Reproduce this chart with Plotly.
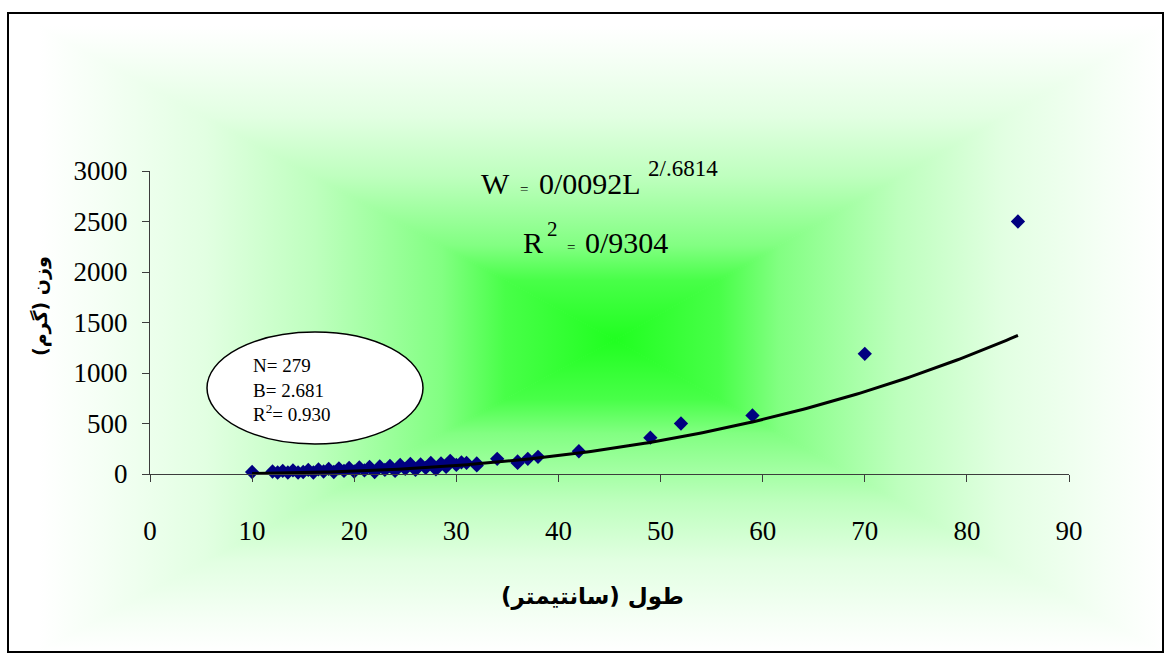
import base64
import numpy as np
import plotly.graph_objects as go

# Length (cm) and weight (g) of the sampled fish
length_cm = [10, 12, 12.5, 13, 13.5, 14, 14.5, 15, 15.5, 16, 16.5, 17, 17.5, 18, 18.5,
             19, 19.5, 20, 20.5, 21, 21.5, 22, 22.5, 23, 23.5, 24, 24.5, 25, 25.5,
             26, 26.5, 27, 27.5, 28, 28.5, 29, 29.4, 30, 30.5, 31, 32, 32, 34, 36,
             36, 37, 38, 42, 49, 52, 59, 70, 85]
weight_g = [20, 25, 15, 30, 15, 35, 15, 20, 40, 15, 45, 25, 50, 20, 55,
            30, 60, 25, 65, 35, 70, 20, 75, 40, 80, 30, 90, 50, 100,
            40, 95, 60, 110, 45, 105, 70, 130, 90, 115, 110, 105, 85, 150, 125,
            110, 150, 170, 225, 360, 500, 580, 1190, 2500]

# Power fit W = a * L^b
fit_a = 0.0092
fit_b = 2.6814
fit_r2 = 0.9304
n_fish = 279

x_ticks = [0, 10, 20, 30, 40, 50, 60, 70, 80, 90]
y_ticks = [0, 500, 1000, 1500, 2000, 2500, 3000]

W_PX, H_PX = 1171, 663


def px(x):
    return x / W_PX


def py(y):
    return 1 - y / H_PX


# Rectangular "from centre" green gradient for the chart background
gx0, gy0, gx1, gy1 = 38, 26, 1162, 652
cx, cy = 615, 340
stops = [(0.0, (32, 255, 32)), (0.19, (72, 255, 72)), (0.3, (130, 255, 130)),
         (0.52, (190, 255, 190)), (0.71, (226, 255, 226)), (0.9, (246, 255, 246)),
         (1.0, (255, 255, 255))]
stop_xml = "".join(
    f'<stop offset="{o}" stop-color="rgb({c[0]},{c[1]},{c[2]})"/>' for o, c in stops)
tris = [
    ((gx0, gy0), (gx1, gy0), (cx, gy0)),
    ((gx0, gy1), (gx1, gy1), (cx, gy1)),
    ((gx0, gy0), (gx0, gy1), (gx0, cy)),
    ((gx1, gy0), (gx1, gy1), (gx1, cy)),
]
defs, polys = "", ""
for i, (a, b, end) in enumerate(tris):
    defs += (f'<linearGradient id="g{i}" gradientUnits="userSpaceOnUse" '
             f'x1="{cx}" y1="{cy}" x2="{end[0]}" y2="{end[1]}">{stop_xml}</linearGradient>')
    polys += (f'<polygon points="{a[0]},{a[1]} {b[0]},{b[1]} {cx},{cy}" '
              f'fill="url(#g{i})" stroke="url(#g{i})" stroke-width="1"/>')
svg = (f'<svg xmlns="http://www.w3.org/2000/svg" width="{W_PX}" height="{H_PX}" '
       f'viewBox="0 0 {W_PX} {H_PX}"><defs>{defs}</defs>{polys}</svg>')
bg_src = "data:image/svg+xml;base64," + base64.b64encode(svg.encode()).decode()

fit_x = np.linspace(min(length_cm), max(length_cm), 200)
fit_y = fit_a * fit_x ** fit_b

fig = go.Figure()
fig.add_trace(go.Scatter(
    x=length_cm, y=weight_g, mode="markers",
    marker=dict(symbol="diamond", size=11, color="#000080", line=dict(width=0)),
    cliponaxis=False, showlegend=False, hoverinfo="x+y"))
fig.add_trace(go.Scatter(
    x=fit_x, y=fit_y, mode="lines", line=dict(color="black", width=3),
    cliponaxis=False, showlegend=False, hoverinfo="skip"))

tick_font = dict(family="Liberation Serif", size=27, color="black")
axis_col = "#3c3c3c"

fig.update_layout(
    width=W_PX, height=H_PX, autosize=False,
    margin=dict(l=0, r=0, t=0, b=0, pad=0, autoexpand=False),
    paper_bgcolor="white", plot_bgcolor="rgba(0,0,0,0)",
    xaxis=dict(domain=[px(150), px(1069)], range=[0, 90], tickvals=x_ticks,
               ticktext=[str(v) for v in x_ticks], automargin=False,
               showgrid=False, zeroline=False, showline=True, linecolor=axis_col,
               linewidth=1, ticks="outside", ticklen=7, tickcolor=axis_col,
               tickfont=tick_font, ticklabelstandoff=26),
    yaxis=dict(domain=[py(474), py(171)], range=[0, 3000], tickvals=y_ticks,
               ticktext=[str(v) for v in y_ticks], automargin=False,
               showgrid=False, zeroline=False, showline=True, linecolor=axis_col,
               linewidth=1, ticks="outside", ticklen=7, tickcolor=axis_col,
               tickfont=tick_font, ticklabelstandoff=9),
    images=[dict(source=bg_src, xref="paper", yref="paper", x=0, y=1,
                 sizex=1, sizey=1, xanchor="left", yanchor="top",
                 sizing="stretch", layer="below")],
)

# Chart frame and the summary ellipse
fig.add_shape(type="rect", xref="paper", yref="paper",
              x0=px(8), x1=px(1163), y0=py(652), y1=py(13),
              line=dict(color="black", width=2), fillcolor="rgba(0,0,0,0)")
fig.add_shape(type="circle", xref="paper", yref="paper",
              x0=px(207), x1=px(423), y0=py(444), y1=py(332),
              line=dict(color="black", width=1.5), fillcolor="white")

serif = "Liberation Serif"


def note(x, y, text, size, xanchor="left", family=serif, **kw):
    fig.add_annotation(x=px(x), y=py(y), xref="paper", yref="paper", text=text,
                       showarrow=False, xanchor=xanchor, yanchor="middle",
                       font=dict(family=family, size=size, color="black"), **kw)


# Fitted equation and coefficient of determination
a_txt = f"{fit_a:.4f}".replace(".", "/")
b_int, b_frac = f"{fit_b:.4f}".split(".")
note(479, 183, "W", 30)
note(518, 189, "=", 15)
note(537, 183, f"{a_txt}L", 30)
note(646, 168, f"{b_int}/.{b_frac}", 23)
note(521, 242, "R", 30)
note(545, 229, "2", 21)
note(565, 247, "=", 15)
note(583, 242, f"{fit_r2:.4f}".replace(".", "/"), 30)

# Sample summary inside the ellipse
note(251, 390,
     f"N= {n_fish}<br>B= {fit_b:.3f}<br>R<sup>2</sup>= {fit_r2:.3f}", 19, align="left")

# Axis titles
note(592, 596, "<b>طول (سانتیمتر)</b>", 23, xanchor="center", family="DejaVu Sans")
note(40, 306, "<b>وزن (گرم)</b>", 19, xanchor="center", family="DejaVu Sans",
     textangle=-90)

page_css = ("document.body.style.margin='0';"
            "document.body.style.overflow='hidden';")
fig.write_html("out.html", post_script=page_css)
